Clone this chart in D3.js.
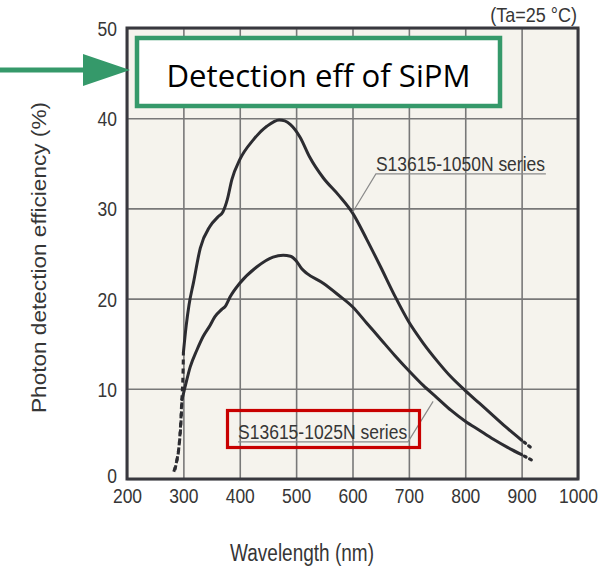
<!DOCTYPE html>
<html>
<head>
<meta charset="utf-8">
<script src="https://cdn.jsdelivr.net/npm/d3@7"></script>
<style>
  html, body { margin: 0; padding: 0; background: #ffffff; }
  svg { display: block; }
</style>
</head>
<body>
<svg id="chart" width="609" height="568"></svg>
<script>
// ---------- data ----------
const xTicks = [200, 300, 400, 500, 600, 700, 800, 900, 1000];
const yTicks = [0, 10, 20, 30, 40, 50];

const wl1050 = [300, 305, 310, 318, 330, 347, 362, 370, 378, 386, 400, 424, 448, 470, 480, 490, 507, 524, 548, 575, 600, 625, 650, 675, 700, 725, 750, 775, 800, 825, 850, 875, 900];
const pde1050 = [14.0, 17.0, 19.3, 21.8, 25.6, 28.0, 29.1, 29.6, 31.0, 33.2, 35.4, 37.6, 39.1, 39.8, 39.7, 39.3, 37.9, 35.7, 33.4, 31.5, 29.5, 26.6, 23.5, 20.3, 17.4, 15.1, 13.1, 11.3, 9.8, 8.4, 7.0, 5.6, 4.3];

const wl1025 = [297.5, 303, 312, 324, 335, 347, 356, 368, 375, 383, 400, 430, 459, 477, 490, 500, 510, 519, 548, 575, 600, 625, 650, 675, 700, 725, 750, 775, 800, 825, 850, 875, 900];
const pde1025 = [8.8, 10.2, 12.4, 14.3, 15.8, 17.0, 18.0, 18.8, 19.2, 20.2, 21.7, 23.5, 24.6, 24.8, 24.7, 24.2, 23.3, 22.8, 21.7, 20.4, 19.1, 17.3, 15.5, 13.7, 12.0, 10.4, 9.0, 7.6, 6.4, 5.4, 4.4, 3.5, 2.7];

// dashed (extrapolated) parts
const wl1050Start = [283, 290, 294, 297, 299, 300];
const pde1050Start = [0.8, 2.5, 5.0, 8.5, 11.0, 14.0];
const wl1025Start = [285, 291, 295, 297.5];
const pde1025Start = [1.0, 3.0, 5.5, 8.8];
const wl1050End = [900, 918];
const pde1050End = [4.3, 3.4];
const wl1025End = [900, 918];
const pde1025End = [2.7, 2.1];

const seriesNames = ["S13615-1050N series", "S13615-1025N series"];
// label anchor (text start, baseline) and leader target, in data units
const labelAt = [[641.5, 34.1], [397, 4.4]];
const labelEnd = [[943, 34.1], [698.5, 4.4]];
const leaderTo = [[600.5, 29.6], [743, 8.6]];

const xTitle = "Wavelength (nm)";
const yTitle = "Photon detection efficiency (%)";
const condition = "(Ta=25 °C)";
const annotation = "Detection eff of SiPM";

// ---------- layout ----------
const svg = d3.select("#chart");
const x = d3.scaleLinear().domain([200, 1000]).range([127, 578]);
const y = d3.scaleLinear().domain([0, 50]).range([479, 28]);
const plotW = 451, plotH = 451;
const curveColor = "#2c2c31";
const textColor = "#363636";
const fontFam = "'Liberation Sans', Arial, sans-serif";
const green = "#35996a";
const red = "#c80000";

// plot background
svg.append("rect")
  .attr("x", x(200)).attr("y", y(50))
  .attr("width", x(1000) - x(200)).attr("height", y(0) - y(50))
  .attr("fill", "#f5f3ed");

// x axis with gridlines
const gx = svg.append("g").attr("transform", `translate(0,${y(0)})`)
  .call(d3.axisBottom(x).tickValues(xTicks).tickSize(-plotH).tickFormat(d3.format("d")));
gx.select(".domain").remove();
gx.selectAll(".tick line").attr("stroke", "#787878").attr("stroke-width", 1.6);
gx.selectAll(".tick text")
  .attr("y", null).attr("dy", null)
  .attr("transform", "translate(0,23.5) scale(1,1.15)")
  .attr("fill", textColor)
  .style("font-size", "17.5px").style("font-family", fontFam);

// y axis with gridlines
const gy = svg.append("g").attr("transform", `translate(${x(200)},0)`)
  .call(d3.axisLeft(y).tickValues(yTicks).tickSize(-plotW).tickFormat(d3.format("d")));
gy.select(".domain").remove();
gy.selectAll(".tick line").attr("stroke", "#787878").attr("stroke-width", 1.6);
gy.selectAll(".tick text")
  .attr("x", null).attr("dy", null)
  .attr("transform", d => `translate(-10,${d === 0 ? 3.5 : 7.5}) scale(1,1.15)`)
  .attr("text-anchor", "end")
  .attr("fill", textColor)
  .style("font-size", "17.5px").style("font-family", fontFam);

// plot border
svg.append("rect")
  .attr("x", x(200)).attr("y", y(50))
  .attr("width", x(1000) - x(200)).attr("height", y(0) - y(50))
  .attr("fill", "none").attr("stroke", "#38383e").attr("stroke-width", 3);

// curves
const lineM = d3.line().x(d => x(d[0])).y(d => y(d[1])).curve(d3.curveMonotoneX);
const lineC = d3.line().x(d => x(d[0])).y(d => y(d[1])).curve(d3.curveCatmullRom);
const zip = (a, b) => a.map((v, i) => [v, b[i]]);

[[wl1050, pde1050], [wl1025, pde1025]].forEach(([w, p]) => {
  svg.append("path").datum(zip(w, p)).attr("d", lineM)
    .attr("fill", "none").attr("stroke", curveColor).attr("stroke-width", 3)
    .attr("stroke-linejoin", "round").attr("stroke-linecap", "round");
});
[[wl1050Start, pde1050Start], [wl1025Start, pde1025Start]].forEach(([w, p]) => {
  svg.append("path").datum(zip(w, p)).attr("d", lineC)
    .attr("fill", "none").attr("stroke", curveColor).attr("stroke-width", 3)
    .attr("stroke-dasharray", "5,4");
});
[[wl1050End, pde1050End], [wl1025End, pde1025End]].forEach(([w, p]) => {
  svg.append("path").datum(zip(w, p)).attr("d", lineC)
    .attr("fill", "none").attr("stroke", curveColor).attr("stroke-width", 3.2)
    .attr("stroke-dasharray", "2,4").attr("stroke-dashoffset", -3)
    .attr("stroke-linecap", "round");
});

// series labels with underline and leader
seriesNames.forEach((name, i) => {
  const [lx, ly] = labelAt[i];
  const [ex] = labelEnd[i];
  const [tx, ty] = leaderTo[i];
  svg.append("text")
    .attr("transform", `translate(${x(lx)},${y(ly)}) scale(1,1.12)`)
    .attr("fill", textColor)
    .style("font-size", "17.5px").style("font-family", fontFam)
    .text(name);
  const uy = y(ly) + 2.5;
  const pts = i === 0
    ? [[x(ex), uy], [x(lx), uy], [x(tx), y(ty)]]
    : [[x(lx), uy], [x(ex), uy], [x(tx), y(ty)]];
  svg.append("path").attr("d", d3.line()(pts))
    .attr("fill", "none").attr("stroke", "#8a8a8a").attr("stroke-width", 1.2);
});

// condition text
svg.append("text")
  .attr("transform", "translate(577,22) scale(1,1.08)")
  .attr("text-anchor", "end")
  .attr("fill", textColor)
  .style("font-size", "18px").style("font-family", fontFam)
  .text(condition);

// axis titles
svg.append("text")
  .attr("transform", "translate(302,561) scale(1,1.22)")
  .attr("text-anchor", "middle")
  .attr("fill", textColor)
  .style("font-size", "19px").style("font-family", fontFam)
  .text(xTitle);
svg.append("text")
  .attr("transform", "translate(46,257.5) rotate(-90)")
  .attr("text-anchor", "middle")
  .attr("textLength", 311).attr("lengthAdjust", "spacingAndGlyphs")
  .attr("fill", textColor)
  .style("font-size", "21px").style("font-family", fontFam)
  .text(yTitle);

// red highlight box around the 1025N label
svg.append("rect")
  .attr("x", 227.5).attr("y", 410.5).attr("width", 192).attr("height", 37)
  .attr("fill", "none").attr("stroke", red).attr("stroke-width", 3.2);

// green annotation box and arrow
svg.append("rect")
  .attr("x", 137).attr("y", 38).attr("width", 363).attr("height", 68)
  .attr("fill", "#ffffff").attr("stroke", green).attr("stroke-width", 4.5);
svg.append("text")
  .attr("x", 318.5).attr("y", 87)
  .attr("text-anchor", "middle")
  .attr("textLength", 304).attr("lengthAdjust", "spacingAndGlyphs")
  .attr("fill", "#000000")
  .style("font-size", "31px").style("font-family", "'Open Sans', 'Noto Sans', sans-serif")
  .text(annotation);
svg.append("line")
  .attr("x1", 0).attr("y1", 70).attr("x2", 90).attr("y2", 70)
  .attr("stroke", green).attr("stroke-width", 5);
svg.append("path")
  .attr("d", d3.line()([[83, 54], [130, 70], [83, 86]]) + "Z")
  .attr("fill", green);
</script>
</body>
</html>
